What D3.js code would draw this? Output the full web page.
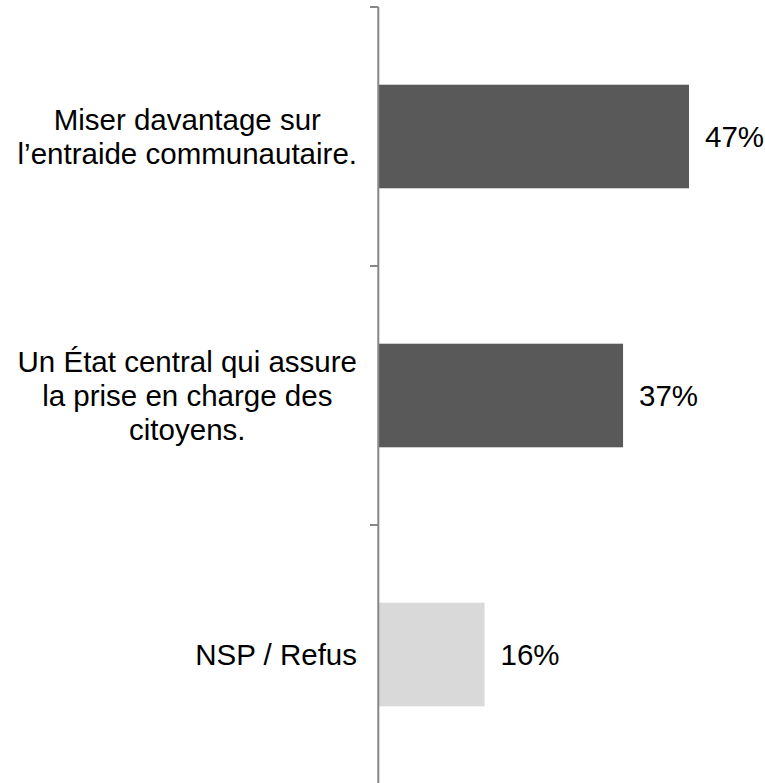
<!DOCTYPE html>
<html>
<head>
<meta charset="utf-8">
<script src="https://cdn.jsdelivr.net/npm/d3@7"></script>
<style>
  html, body { margin: 0; padding: 0; background: #fff; }
  svg { display: block; font-family: "Liberation Sans", Arial, sans-serif; }
</style>
</head>
<body>
<svg id="chart" width="765" height="783"></svg>
<script>
// Answer options (one entry per bar, label lines pre-wrapped)
const categories = [
  ["Miser davantage sur", "l\u2019entraide communautaire."],
  ["Un \u00c9tat central qui assure", "la prise en charge des", "citoyens."],
  ["NSP / Refus"]
];
const values = [47, 37, 16];
const valueLabels = ["47%", "37%", "16%"];
const barColors = ["#595959", "#595959", "#d9d9d9"];

const svg = d3.select("#chart");
const fontSize = 29.5;
const lineHeight = 34;

const y = d3.scaleBand()
  .domain(d3.range(categories.length))
  .range([7, 784])
  .padding(0);

const x = d3.scaleLinear()
  .domain([0, 50])
  .range([379, 708.8]);

const barH = y.bandwidth() * 0.4;

// Bars
svg.append("g").selectAll("rect")
  .data(values)
  .join("rect")
  .attr("x", x(0))
  .attr("y", (d, i) => y(i) + (y.bandwidth() - barH) / 2)
  .attr("width", d => x(d) - x(0))
  .attr("height", barH)
  .attr("fill", (d, i) => barColors[i]);

// Vertical category axis with ticks at band boundaries
const axisX = 378.3;
const axis = svg.append("g");
axis.append("line")
  .attr("x1", axisX).attr("x2", axisX)
  .attr("y1", y.range()[0]).attr("y2", y.range()[1])
  .attr("stroke", "#878787").attr("stroke-width", 2);
const tickPos = d3.range(categories.length + 1).map(i => y.range()[0] + i * y.step());
axis.selectAll("line.tick")
  .data(tickPos)
  .join("line")
  .attr("class", "tick")
  .attr("x1", 370).attr("x2", axisX)
  .attr("y1", d => d).attr("y2", d => d)
  .attr("stroke", "#878787").attr("stroke-width", 2);

// Category labels: each block right-aligned to the axis, lines centred within it
const labelRight = 357;
categories.forEach((lines, i) => {
  const g = svg.append("g");
  const texts = g.selectAll("text")
    .data(lines)
    .join("text")
    .attr("font-size", fontSize)
    .attr("fill", "#000")
    .attr("text-anchor", "middle")
    .text(d => d);
  let maxW = 0;
  texts.each(function () { maxW = Math.max(maxW, this.getComputedTextLength()); });
  const cx = labelRight - maxW / 2;
  const cy = y(i) + y.bandwidth() / 2;
  const first = cy - (lines.length - 1) * lineHeight / 2;
  texts.attr("x", cx)
    .attr("y", (d, j) => first + j * lineHeight)
    .attr("dy", "0.35em");
});

// Value labels beside each bar
svg.append("g").selectAll("text")
  .data(values)
  .join("text")
  .attr("x", d => x(d) + 16)
  .attr("y", (d, i) => y(i) + y.bandwidth() / 2)
  .attr("dy", "0.35em")
  .attr("font-size", fontSize)
  .attr("fill", "#000")
  .text((d, i) => valueLabels[i]);
</script>
</body>
</html>
